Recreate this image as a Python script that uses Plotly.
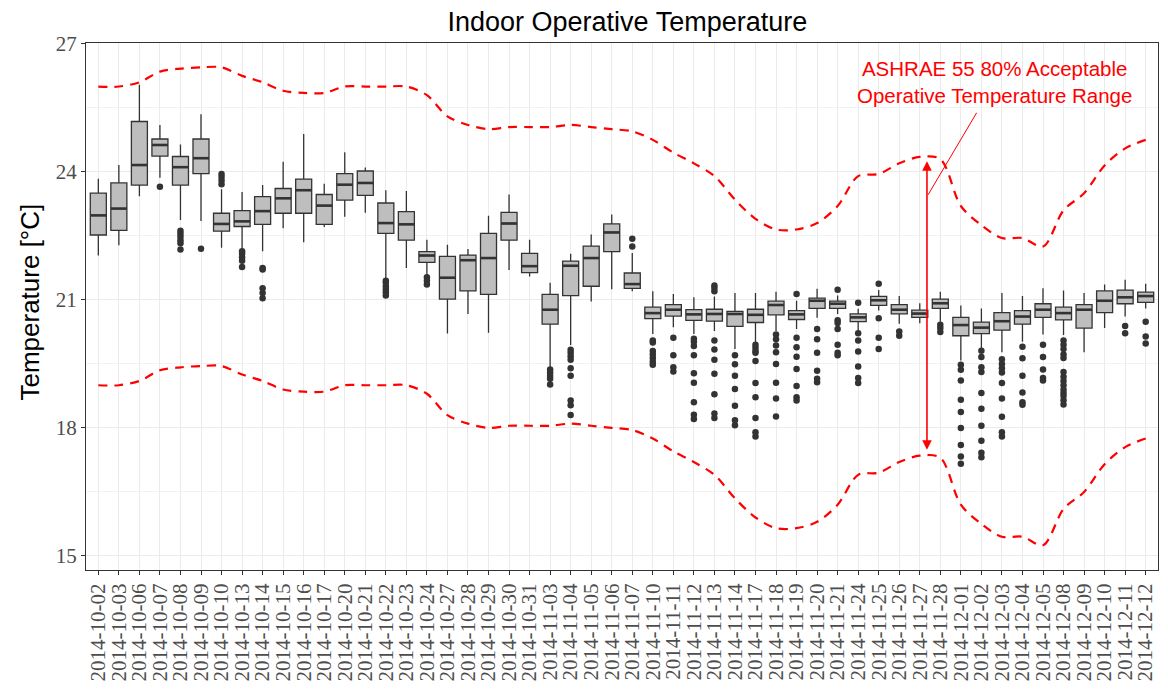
import plotly.graph_objects as go

dates = ["2014-10-02","2014-10-03","2014-10-06","2014-10-07","2014-10-08","2014-10-09","2014-10-10",
         "2014-10-13","2014-10-14","2014-10-15","2014-10-16","2014-10-17","2014-10-20","2014-10-21",
         "2014-10-22","2014-10-23","2014-10-24","2014-10-27","2014-10-28","2014-10-29","2014-10-30",
         "2014-10-31","2014-11-03","2014-11-04","2014-11-05","2014-11-06","2014-11-07","2014-11-10",
         "2014-11-11","2014-11-12","2014-11-13","2014-11-14","2014-11-17","2014-11-18","2014-11-19",
         "2014-11-20","2014-11-21","2014-11-24","2014-11-25","2014-11-26","2014-11-27","2014-11-28",
         "2014-12-01","2014-12-02","2014-12-03","2014-12-04","2014-12-05","2014-12-08","2014-12-09",
         "2014-12-10","2014-12-11","2014-12-12"]

lower_whisker = [22.04,22.28,23.43,23.86,22.87,22.85,22.22,22.16,22.14,22.68,22.35,22.71,22.95,23.04,
                 21.49,21.75,21.57,20.21,20.67,20.23,21.70,21.55,19.43,19.94,20.96,21.25,21.20,20.20,
                 20.36,20.20,20.27,19.85,20.00,20.27,20.32,20.58,20.67,20.27,20.75,20.44,20.45,20.49,
                 19.58,19.85,19.77,20.02,20.19,20.18,19.77,20.34,20.61,20.80]
q1 = [22.52,22.63,23.69,24.37,23.69,23.96,22.61,22.72,22.77,23.03,23.03,22.77,23.34,23.45,
      22.56,22.40,21.88,21.02,21.21,21.13,22.40,21.64,20.43,21.10,21.32,22.13,21.27,20.56,
      20.62,20.52,20.50,20.38,20.47,20.65,20.54,20.80,20.80,20.49,20.87,20.67,20.59,20.80,
      20.16,20.21,20.29,20.43,20.59,20.53,20.34,20.70,20.91,20.94]
median = [22.98,23.14,24.16,24.63,24.11,24.32,22.78,22.84,23.08,23.38,23.57,23.21,23.70,23.74,
          22.80,22.77,22.04,21.52,21.93,21.98,22.79,21.79,20.77,21.80,21.98,22.58,21.37,20.69,
          20.77,20.66,20.67,20.67,20.65,20.88,20.66,20.98,20.91,20.59,20.99,20.77,20.68,20.92,
          20.41,20.35,20.50,20.61,20.77,20.69,20.77,20.98,21.06,21.09]
q3 = [23.50,23.74,25.18,24.77,24.36,24.77,23.03,23.09,23.42,23.61,23.83,23.47,23.96,24.02,
      23.27,23.07,22.13,22.02,22.05,22.56,23.05,22.09,21.13,21.91,22.26,22.78,21.63,20.83,
      20.89,20.77,20.78,20.73,20.78,20.97,20.75,21.04,20.97,20.67,21.08,20.89,20.76,21.02,
      20.59,20.48,20.70,20.75,20.91,20.83,20.89,21.21,21.23,21.18]
upper_whisker = [23.84,24.16,26.04,25.10,24.64,25.35,23.59,23.53,23.69,24.24,24.89,23.72,24.46,24.10,
                 23.57,23.55,22.41,22.29,22.19,22.97,23.47,22.41,21.40,22.08,22.53,23.00,22.10,21.20,
                 21.14,21.06,21.08,21.16,21.16,21.19,20.98,21.26,21.10,20.79,21.23,21.09,20.92,21.19,
                 20.87,20.80,21.16,21.09,21.27,21.22,21.16,21.36,21.47,21.38]

outliers = [[],[],[],[23.65],[22.62,22.55,22.48,22.40,22.33,22.18],[22.20],[23.95,23.88,23.80,23.71],
            [22.14,22.08,22.00,21.92,21.77],[21.75,21.71,21.27,21.16,21.04],[],[],[],[],[],
            [21.45,21.40,21.32,21.25,21.18,21.10],[],[21.53,21.45,21.36],[],[],[],[],[],
            [19.37,19.30,19.22,19.15,19.02],[19.83,19.76,19.68,19.60,19.40,19.22,18.64,18.53,18.30],
            [],[],[22.43,22.25],[20.05,20.00,19.80,19.72,19.64,19.55,19.48],[20.11,19.70,19.42,19.32],
            [20.09,20.02,19.92,19.70,19.28,19.06,18.60,18.31,18.21],
            [21.34,21.28,21.20,20.05,19.84,19.60,19.27,18.79,18.34,18.23],
            [19.70,19.49,19.22,18.91,18.52,18.18,18.06],
            [19.95,19.88,19.80,19.76,19.57,19.05,18.72,18.23,17.90,17.80],
            [20.19,20.08,19.93,19.77,19.50,19.06,18.69,18.27],
            [21.14,20.11,19.89,19.67,19.38,18.98,18.72,18.64],
            [20.32,20.08,19.76,19.34,19.15,19.07],
            [21.24,20.52,20.46,20.32,19.95,19.76,19.70],
            [20.93,20.22,20.05,19.79,19.44,19.17,19.05],
            [21.38,20.57,20.11,19.85],[20.26,20.16],[],[20.42,20.34,20.25],
            [19.48,19.36,19.11,18.66,18.37,18.00,17.60,17.33,17.16],
            [19.81,19.66,19.42,19.31,18.82,18.45,18.05,17.70,17.42,17.31],
            [19.61,19.50,19.40,19.30,19.05,18.69,18.26,17.90,17.80],
            [19.90,19.63,19.22,18.83,18.60,18.54],
            [19.95,19.66,19.37,19.17,19.11],
            [20.05,19.95,19.85,19.72,19.64,19.31,19.20,19.10,19.00,18.90,18.82,18.75,18.65,18.55],
            [],[],[20.39,20.22],[20.49,20.14,19.98]]

upper_limit = [26.00,26.00,26.10,26.35,26.42,26.45,26.45,26.25,26.10,25.90,25.85,25.85,26.00,26.00,
               26.00,26.00,25.80,25.30,25.10,25.00,25.05,25.05,25.05,25.10,25.05,25.00,24.95,24.75,
               24.45,24.20,23.90,23.35,22.90,22.65,22.65,22.80,23.20,23.90,23.95,24.20,24.35,24.30,
               23.20,22.75,22.45,22.45,22.25,23.10,23.50,24.15,24.55,24.75]
lower_limit = [19.00,19.00,19.10,19.35,19.42,19.45,19.45,19.25,19.10,18.90,18.85,18.85,19.00,19.00,
               19.00,19.00,18.80,18.30,18.10,18.00,18.05,18.05,18.05,18.10,18.05,18.00,17.95,17.75,
               17.45,17.20,16.90,16.35,15.90,15.65,15.65,15.80,16.20,16.90,16.95,17.20,17.35,17.30,
               16.20,15.75,15.45,15.45,15.25,16.10,16.50,17.15,17.55,17.75]

y_ticks = [15, 18, 21, 24, 27]

idx = list(range(len(dates)))
BOX_W = 0.78
DARK = "#333333"

fig = go.Figure()

# acceptable range limits
for lim in (upper_limit, lower_limit):
    fig.add_trace(go.Scatter(x=idx, y=lim, mode="lines",
                             line=dict(color="red", width=2.2, dash="9px,7px", shape="spline", smoothing=0.9),
                             showlegend=False, hoverinfo="skip"))

fig.add_trace(go.Box(x=idx, q1=q1, median=median, q3=q3,
                     lowerfence=lower_whisker, upperfence=upper_whisker,
                     boxpoints=False, width=BOX_W, whiskerwidth=0,
                     fillcolor="#bebebe", line=dict(color=DARK, width=1.3),
                     showlegend=False))

# thicker median bars
mx, my = [], []
for i, m in zip(idx, median):
    mx += [i - BOX_W / 2, i + BOX_W / 2, None]
    my += [m, m, None]
fig.add_trace(go.Scatter(x=mx, y=my, mode="lines", line=dict(color=DARK, width=2.6),
                         showlegend=False, hoverinfo="skip"))

# outliers
ox, oy = [], []
for i, pts in zip(idx, outliers):
    ox += [i] * len(pts)
    oy += pts
fig.add_trace(go.Scatter(x=ox, y=oy, mode="markers",
                         marker=dict(color=DARK, size=6.5), showlegend=False))

tickfont = dict(family="Liberation Serif", size=21, color="#4d4d4d")

fig.update_xaxes(range=[-0.6, len(dates) - 0.4], tickmode="array", tickvals=idx, ticktext=dates,
                 tickangle=-90, tickfont=tickfont, ticks="outside", ticklen=4, tickcolor=DARK,
                 showgrid=True, gridcolor="#ebebeb", gridwidth=1, zeroline=False, automargin=False,
                 showline=True, mirror=True, linecolor=DARK, linewidth=1)
fig.update_yaxes(range=[14.67, 27.02], tickmode="array", tickvals=y_ticks,
                 tickfont=tickfont, ticks="outside", ticklen=4, tickcolor=DARK, automargin=False,
                 showgrid=True, gridcolor="#ebebeb", gridwidth=1, zeroline=False,
                 minor=dict(dtick=1.5, tick0=15, showgrid=True, gridcolor="#f2f2f2", gridwidth=0.6, ticks=""),
                 showline=True, mirror=True, linecolor=DARK, linewidth=1)

fig.add_annotation(text="Temperature [°C]", xref="paper", yref="paper", x=-0.052, y=0.508,
                   textangle=-90, showarrow=False, xanchor="center", yanchor="middle",
                   font=dict(family="Liberation Sans", size=26, color="black"))

# double-headed arrow between limits
fig.add_annotation(x=40.35, y=24.25, ax=40.35, ay=17.45, xref="x", yref="y", axref="x", ayref="y",
                   text="", showarrow=True, arrowhead=2, arrowside="end+start", arrowsize=1.2,
                   arrowwidth=1.6, arrowcolor="red", standoff=0, startstandoff=0)

# label with pointer
fig.add_annotation(x=40.4, y=23.46, ax=43.65, ay=26.1, xref="x", yref="y", axref="x", ayref="y",
                   text="ASHRAE 55 80% Acceptable<br>Operative Temperature Range",
                   showarrow=True, arrowhead=0, arrowwidth=1, arrowcolor="red", borderpad=5,
                   font=dict(family="Liberation Sans", size=20.5, color="red"), align="center")

# the page adds an 8px body margin, so the figure is 8px smaller and margins shifted
fig.update_layout(
    width=1160, height=681,
    margin=dict(l=78, r=10, t=35, b=119),
    paper_bgcolor="white", plot_bgcolor="white",
    title=dict(text="Indoor Operative Temperature", x=0.505, xref="paper", xanchor="center",
               y=1 - 14 / 681, yref="container", yanchor="middle",
               font=dict(family="Liberation Sans", size=27, color="black")),
    showlegend=False,
)

fig.write_html("out.html")
